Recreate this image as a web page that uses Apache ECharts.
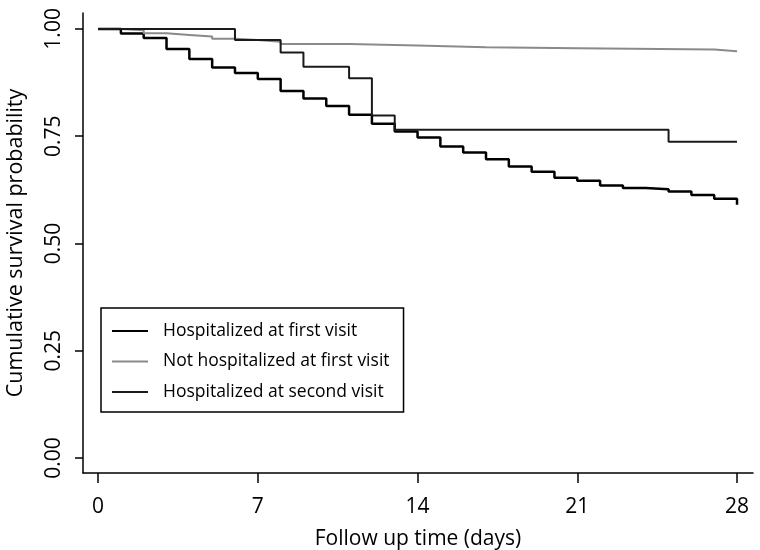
<!DOCTYPE html>
<html>
<head>
<meta charset="utf-8">
<script src="https://cdn.jsdelivr.net/npm/echarts@6/dist/echarts.min.js"></script>
<style>
html,body{margin:0;padding:0;background:#fff;}
#chart{width:760px;height:550px;}
</style>
</head>
<body>
<div id="chart"></div>
<script>
// Data (Kaplan-Meier step curves)
const seriesNames = ['Hospitalized at first visit', 'Not hospitalized at first visit', 'Hospitalized at second visit'];
const daysFirst = [0,1,2,3,4,5,6,7,8,9,10,11,12,13,14,15,16,17,18,19,20,21,22,23,24,25,26,27,28];
const survFirst = [1.000,0.989,0.979,0.953,0.930,0.910,0.897,0.883,0.855,0.838,0.820,0.800,0.779,0.761,0.747,0.726,0.712,0.696,0.679,0.667,0.653,0.646,0.635,0.629,0.626,0.621,0.613,0.604,0.590];
const daysNot = [0,1,2,3,4,5,6,7,8,11,14,17,21,27,28];
const survNot = [1.000,0.997,0.990,0.986,0.982,0.977,0.974,0.970,0.965,0.961,0.957,0.955,0.952,0.948,0.947];
const daysSecond = [0,6,8,9,11,12,13,25,28];
const survSecond = [1.000,0.974,0.945,0.912,0.885,0.798,0.765,0.737,0.737];
const xTicks = [0,7,14,21,28];
const yTicks = [0,0.25,0.5,0.75,1];

const pair = (xs, ys) => xs.map((x, i) => [x, ys[i]]);
const FONT = 'Open Sans';

const chart = echarts.init(document.getElementById('chart'));
chart.setOption({
  animation: false,
  backgroundColor: '#fff',
  grid: { left: 83, right: 7, top: 13, bottom: 77, containLabel: false, outerBoundsMode: 'none' },
  xAxis: {
    type: 'value', min: -0.66, max: 28.7,
    splitLine: { show: false },
    axisLine: { show: true, onZero: false, lineStyle: { color: '#000', width: 1.5 } },
    axisTick: { show: true, length: 10, customValues: xTicks, lineStyle: { color: '#000', width: 1.5 } },
    axisLabel: { customValues: xTicks, color: '#000', fontFamily: FONT, fontSize: 21, margin: 24 },
    name: 'Follow up time (days)', nameLocation: 'middle', nameGap: 56,
    nameTextStyle: { color: '#000', fontFamily: FONT, fontSize: 21 }
  },
  yAxis: {
    type: 'value', min: -0.035, max: 1.037,
    splitLine: { show: false },
    axisLine: { show: true, onZero: false, lineStyle: { color: '#000', width: 1.5 } },
    axisTick: { show: true, length: 8, customValues: yTicks, lineStyle: { color: '#000', width: 1.5 } },
    axisLabel: { customValues: yTicks, rotate: 90, color: '#000', fontFamily: FONT, fontSize: 21, margin: 18,
      formatter: v => v.toFixed(2) },
    name: 'Cumulative survival probability', nameLocation: 'middle', nameGap: 56.5,
    nameTextStyle: { color: '#000', fontFamily: FONT, fontSize: 21.5 }
  },
  legend: {
    orient: 'vertical', left: 101, top: 308,
    data: seriesNames,
    icon: 'rect', itemWidth: 36, itemHeight: 2, itemGap: 10.5,
    padding: [13, 14, 10, 11],
    borderColor: '#000', borderWidth: 1.5,
    textStyle: { color: '#000', fontFamily: FONT, fontSize: 17.5, lineHeight: 20, padding: [0, 0, 0, 10] }
  },
  series: [
    { name: seriesNames[0], type: 'line', step: 'end', showSymbol: false,
      data: pair(daysFirst, survFirst), lineStyle: { color: '#000', width: 2.5 }, itemStyle: { color: '#000' } },
    { name: seriesNames[1], type: 'line', step: 'end', showSymbol: false,
      data: pair(daysNot, survNot), lineStyle: { color: '#8a8a8a', width: 2 }, itemStyle: { color: '#8a8a8a' } },
    { name: seriesNames[2], type: 'line', step: 'end', showSymbol: false,
      data: pair(daysSecond, survSecond), lineStyle: { color: '#1a1a1a', width: 2 }, itemStyle: { color: '#1a1a1a' } }
  ]
});
</script>
</body>
</html>
